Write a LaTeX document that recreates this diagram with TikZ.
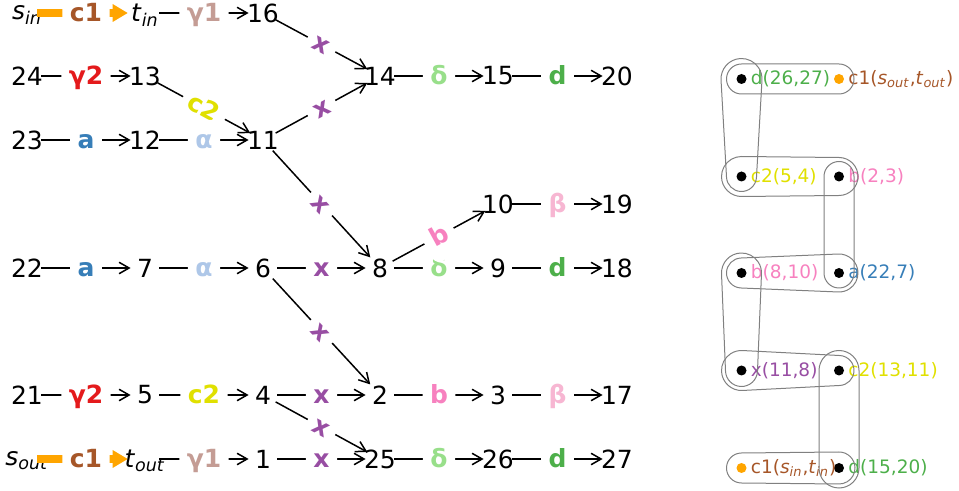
\documentclass[tikz,border=0pt]{standalone}
\usepackage{fontspec}
\setmainfont{DejaVu Sans}
\usetikzlibrary{arrows.meta,calc}
\definecolor{cOne}{HTML}{A65628}
\definecolor{gOne}{HTML}{C49C94}
\definecolor{gTwo}{HTML}{E41A1C}
\definecolor{cA}{HTML}{377EB8}
\definecolor{cAl}{HTML}{AEC7E8}
\definecolor{cX}{HTML}{984EA3}
\definecolor{cDl}{HTML}{98DF8A}
\definecolor{cD}{HTML}{4DAF4A}
\definecolor{cB}{HTML}{F781BF}
\definecolor{cBe}{HTML}{F7B6D2}
\definecolor{cTwo}{HTML}{E0E000}
\definecolor{orng}{HTML}{FFA500}
\definecolor{hullc}{HTML}{808080}
\newcommand\numv[1]{\makebox[0pt]{#1}}
\newcommand\subv[2]{\textit{#1}\smash{\textsubscript{\textit{#2}}}}
\newcommand\hullpair[4]{%
  \draw[hullline] let \p1=(#1.center), \p2=(#2.center),
    \n1={atan2(\y2-\y1,\x2-\x1)},
    \n2={veclen(\x2-\x1,\y2-\y1)},
    \n3={acos((#3-#4)/\n2)} in
    ($(#1.center)+(\n1+\n3:#3pt)$) -- ($(#2.center)+(\n1+\n3:#4pt)$)
    arc[start angle=\n1+\n3, end angle=\n1-\n3, radius=#4pt]
    -- ($(#1.center)+(\n1-\n3:#3pt)$)
    arc[start angle=\n1-\n3, end angle=\n1+\n3-360, radius=#3pt] -- cycle;}
\begin{document}
\begin{tikzpicture}[x=0.5pt,y=-0.5pt,
  vtx/.style={circle, minimum size=14pt, inner sep=0pt, font=\fontsize{12.5}{15}\selectfont},
  elab/.style={fill=white, rounded corners=3.75pt, inner xsep=3.75pt, inner ysep=3.9pt,
    text height=10.25pt, text depth=2pt, font=\fontsize{12.5}{15}\selectfont\bfseries, midway, sloped},
  conn/.style={draw=black, line width=0.75pt, -{Straight Barb[length=5pt,width=5.7pt]}},
  oconn/.style={draw=orng, line width=3.8pt, -{Triangle[length=7.5pt,width=9pt,line width=0pt]},
    shorten <=-2pt, shorten >=1.5pt},
  dot/.style={circle, fill=black, minimum size=5pt, inner sep=0pt},
  odot/.style={dot, fill=orng},
  rlab/.style={anchor=west, inner sep=0pt, font=\fontsize{9.25}{11}\selectfont},
  hullline/.style={draw=hullc, line width=0.5pt}
]
\useasboundingbox (0,0) rectangle (959,491);
% ---------- vertices
\node[vtx] (sin) at (27,13) {\numv{\subv{s}{in}}};
\node[vtx] (tin) at (145,13) {\numv{\subv{t}{in}}};
\node[vtx] (n16) at (263,13) {\numv{16}};
\node[vtx] (n24) at (27,76) {\numv{24}};
\node[vtx] (n13) at (145,76) {\numv{13}};
\node[vtx] (n14) at (380,76) {\numv{14}};
\node[vtx] (n15) at (498,76) {\numv{15}};
\node[vtx] (n20) at (617,76) {\numv{20}};
\node[vtx] (n23) at (27,140) {\numv{23}};
\node[vtx] (n12) at (145,140) {\numv{12}};
\node[vtx] (n11) at (263,140) {\numv{11}};
\node[vtx] (n10) at (498,204) {\numv{10}};
\node[vtx] (n19) at (617,204) {\numv{19}};
\node[vtx] (n22) at (27,268) {\numv{22}};
\node[vtx] (n7) at (145,268) {\numv{7}};
\node[vtx] (n6) at (263,268) {\numv{6}};
\node[vtx] (n8) at (380,268) {\numv{8}};
\node[vtx] (n9) at (498,268) {\numv{9}};
\node[vtx] (n18) at (617,268) {\numv{18}};
\node[vtx] (n21) at (27,395) {\numv{21}};
\node[vtx] (n5) at (145,395) {\numv{5}};
\node[vtx] (n4) at (263,395) {\numv{4}};
\node[vtx] (n2) at (380,395) {\numv{2}};
\node[vtx] (n3) at (498,395) {\numv{3}};
\node[vtx] (n17) at (617,395) {\numv{17}};
\node[vtx] (sout) at (27,459) {\numv{\subv{s}{out}}};
\node[vtx] (tout) at (145,459) {\numv{\subv{t}{out}}};
\node[vtx] (n1) at (263,459) {\numv{1}};
\node[vtx] (n25) at (380,459) {\numv{25}};
\node[vtx] (n26) at (498,459) {\numv{26}};
\node[vtx] (n27) at (617,459) {\numv{27}};
% ---------- edges
\draw[oconn] (sin) -- node[elab,text=cOne] {c1} (tin);
\draw[conn] (tin) -- node[elab,text=gOne] {γ1} (n16);
\draw[conn] (n24) -- node[elab,text=gTwo] {γ2} (n13);
\draw[conn] (n13) -- node[elab,text=cTwo] {c2} (n11);
\draw[conn] (n16) -- node[elab,text=cX] {x} (n14);
\draw[conn] (n11) -- node[elab,text=cX] {x} (n14);
\draw[conn] (n14) -- node[elab,text=cDl] {δ} (n15);
\draw[conn] (n15) -- node[elab,text=cD] {d} (n20);
\draw[conn] (n23) -- node[elab,text=cA] {a} (n12);
\draw[conn] (n12) -- node[elab,text=cAl] {α} (n11);
\draw[conn] (n11) -- node[elab,text=cX] {x} (n8);
\draw[conn] (n10) -- node[elab,text=cBe] {β} (n19);
\draw[conn] (n22) -- node[elab,text=cA] {a} (n7);
\draw[conn] (n7) -- node[elab,text=cAl] {α} (n6);
\draw[conn] (n6) -- node[elab,text=cX] {x} (n8);
\draw[conn] (n8) -- node[elab,text=cDl] {δ} (n9);
\draw[conn] (n8) -- node[elab,text=cB,inner ysep=5.6pt] {b} (n10);
\draw[conn] (n9) -- node[elab,text=cD] {d} (n18);
\draw[conn] (n6) -- node[elab,text=cX] {x} (n2);
\draw[conn] (n21) -- node[elab,text=gTwo] {γ2} (n5);
\draw[conn] (n5) -- node[elab,text=cTwo] {c2} (n4);
\draw[conn] (n4) -- node[elab,text=cX] {x} (n2);
\draw[conn] (n2) -- node[elab,text=cB] {b} (n3);
\draw[conn] (n3) -- node[elab,text=cBe] {β} (n17);
\draw[conn] (n1) -- node[elab,text=cX] {x} (n25);
\draw[conn] (n4) -- node[elab,text=cX] {x} (n25);
\draw[oconn] (sout) -- node[elab,text=cOne] {c1} (tout);
\draw[conn] (tout) -- node[elab,text=gOne] {γ1} (n1);
\draw[conn] (n25) -- node[elab,text=cDl] {δ} (n26);
\draw[conn] (n26) -- node[elab,text=cD] {d} (n27);
% ---------- right panel
\node[dot] (p1) at (741.5,79) {};
\node[odot] (p2) at (839,79) {};
\node[dot] (p3) at (741.5,176.5) {};
\node[dot] (p4) at (839,176.5) {};
\node[dot] (p5) at (741.5,273) {};
\node[dot] (p6) at (839,273) {};
\node[dot] (p7) at (741.5,370.5) {};
\node[dot] (p8) at (839,370.5) {};
\node[odot] (p9) at (741.5,468) {};
\node[dot] (p10) at (839,468) {};
\node[rlab,text=cD] (q1) at ([xshift=4.5pt]p1.center) {d(26,27)};
\node[rlab,text=cOne] (q2) at ([xshift=4.5pt]p2.center) {c1(\textit{s}\textsubscript{\textit{out}},\textit{t}\textsubscript{\textit{out}})};
\node[rlab,text=cTwo] (q3) at ([xshift=4.5pt]p3.center) {c2(5,4)};
\node[rlab,text=cB] (q4) at ([xshift=4.5pt]p4.center) {b(2,3)};
\node[rlab,text=cB] (q5) at ([xshift=4.5pt]p5.center) {b(8,10)};
\node[rlab,text=cA] (q6) at ([xshift=4.5pt]p6.center) {a(22,7)};
\node[rlab,text=cX] (q7) at ([xshift=4.5pt]p7.center) {x(11,8)};
\node[rlab,text=cTwo] (q8) at ([xshift=4.5pt]p8.center) {c2(13,11)};
\node[rlab,text=cOne] (q9) at ([xshift=4.5pt]p9.center) {c1(\textit{s}\textsubscript{\textit{in}},\textit{t}\textsubscript{\textit{in}})};
\node[rlab,text=cD] (q10) at ([xshift=4.5pt]p10.center) {d(15,20)};
\hullpair{p1}{p2}{7.5}{7.5}
\hullpair{p1}{p3}{10.25}{7.5}
\hullpair{p3}{p4}{10}{9.5}
\hullpair{p4}{p6}{7.5}{7.5}
\hullpair{p5}{p6}{7.5}{9.5}
\hullpair{p5}{p7}{10}{8}
\hullpair{p7}{p8}{10}{7.5}
\hullpair{p8}{p10}{10}{10}
\hullpair{p9}{p10}{7.5}{8}
\end{tikzpicture}
\end{document}
